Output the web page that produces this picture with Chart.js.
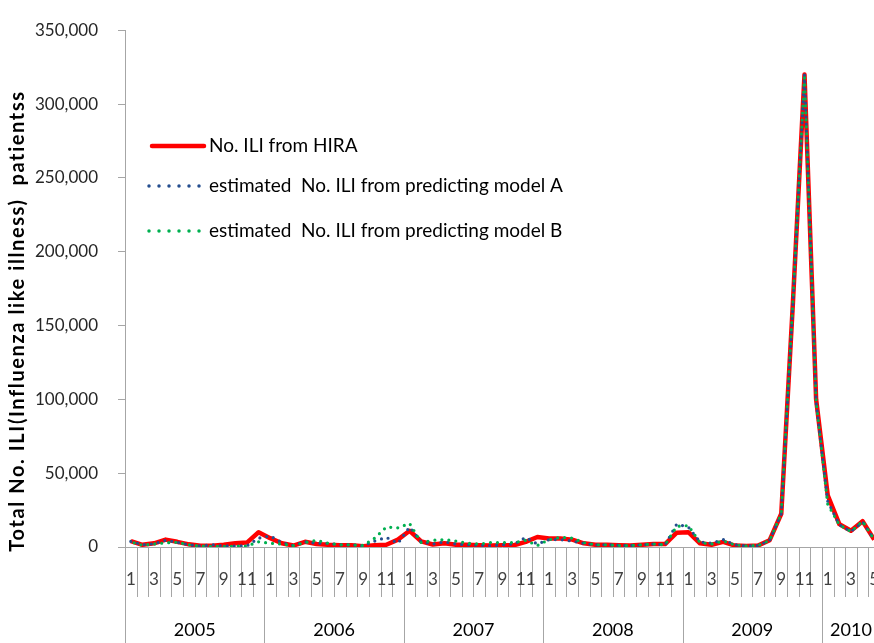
<!DOCTYPE html>
<html>
<head>
<meta charset="utf-8">
<script src="https://cdn.jsdelivr.net/npm/chart.js@4.4.1/dist/chart.umd.min.js"></script>
<style>
  html, body { margin: 0; padding: 0; background: #fff; overflow: hidden; }
  #wrap { width: 880px; height: 643px; position: relative; }
</style>
</head>
<body>
<div id="wrap"><canvas id="ili"></canvas></div>
<script>
// Monthly ILI counts, January 2005 – May 2010
const years = [2005, 2006, 2007, 2008, 2009, 2010];
const monthsPerYear = [12, 12, 12, 12, 12, 5];

const hira = [
  4000, 1500, 2500, 5000, 3500, 1800, 800, 800, 1500, 2500, 3000, 10000,
  6000, 2500, 1000, 3500, 2000, 1500, 1200, 1200, 500, 1200, 1500, 5000,
  11000, 3800, 1700, 2500, 1500, 1500, 1200, 1000, 1200, 1200, 3500, 6800,
  5700, 5700, 5000, 2500, 1500, 1500, 1200, 1000, 1500, 2000, 2000, 9700,
  10000, 2500, 1500, 3500, 1000, 600, 1000, 4600, 22500, 165000, 320000, 100000,
  35000, 15500, 11000, 17500, 5000
];
const modelA = [
  3800, 1500, 2200, 4500, 3200, 1500, 700, 1500, 800, 600, 800, 6000,
  7500, 3000, 1000, 3500, 2500, 2500, 1500, 1500, 800, 4000, 6500, 2500,
  13500, 3500, 2000, 3500, 2000, 1500, 1200, 1000, 1500, 2000, 6500, 2000,
  5000, 5000, 4000, 2500, 1500, 1500, 1200, 1000, 1500, 2000, 1500, 15500,
  13500, 3500, 2500, 5000, 1500, 700, 1000, 4500, 22500, 163000, 320000, 98000,
  31000, 15000, 10500, 17000, 5000
];
const modelB = [
  3500, 1200, 2000, 2800, 3200, 1500, 600, 500, 500, 500, 700, 3500,
  2500, 2000, 1000, 3000, 4500, 2500, 1500, 1500, 1000, 6000, 13500, 13000,
  16000, 3000, 4500, 5000, 4000, 2500, 2000, 3000, 3000, 3000, 4500, 1000,
  5000, 6500, 6000, 3000, 1500, 1500, 1000, 1000, 1500, 2000, 1500, 14000,
  14500, 3000, 2000, 4000, 1500, 700, 1000, 4500, 22500, 166000, 320000, 99000,
  29000, 15000, 10500, 17500, 5000
];

const seriesNames = [
  'No. ILI from HIRA',
  'estimated  No. ILI from predicting model A',
  'estimated  No. ILI from predicting model B'
];
const yAxisTitle = 'Total No. ILI(Influenza like illness)  patientss';
const yMax = 350000;
const yStep = 50000;

const RED = '#FF0000';
const BLUE = '#254E8F';
const GREEN = '#00B050';
const AXIS = '#A6A6A6';
const FONT = 'Lato, "Open Sans", sans-serif';

// category list: one entry per month, remembering year and month number
const categories = [];
const monthOf = [];
years.forEach((yr, yi) => {
  for (let m = 1; m <= monthsPerYear[yi]; m++) {
    categories.push(yr + '-' + m);
    monthOf.push(m);
  }
});

// two-level month / year axis, y-axis title and legend
const decor = {
  id: 'decor',
  afterDraw(chart) {
    const ctx = chart.ctx;
    const xs = chart.scales.x;
    const area = chart.chartArea;
    const H = chart.height;
    const half = (xs.getPixelForValue(1) - xs.getPixelForValue(0)) / 2;
    const crisp = v => Math.round(v) + 0.5;
    const base = crisp(area.bottom);

    ctx.save();
    ctx.strokeStyle = AXIS;
    ctx.lineWidth = 1;
    ctx.beginPath();
    ctx.moveTo(area.left, base);
    ctx.lineTo(area.right, base);
    ctx.moveTo(crisp(area.left), area.top);
    ctx.lineTo(crisp(area.left), H);
    ctx.stroke();

    const monthRowBottom = area.bottom + 50;
    let idx = 0;
    years.forEach((yr, yi) => {
      const n = monthsPerYear[yi];
      const firstLeft = xs.getPixelForValue(idx) - half;
      for (let k = 0; k < n; k++) {
        const i = idx + k;
        const cx = xs.getPixelForValue(i);
        const right = crisp(cx + half);
        const endOfYear = monthOf[i] === 12;
        ctx.beginPath();
        ctx.moveTo(right, base);
        ctx.lineTo(right, endOfYear ? H : monthRowBottom);
        ctx.stroke();
        if (monthOf[i] % 2 === 1) {
          ctx.fillStyle = '#404040';
          ctx.font = '17px ' + FONT;
          ctx.textAlign = 'center';
          ctx.textBaseline = 'middle';
          ctx.fillText(String(monthOf[i]), cx, area.bottom + 33);
        }
      }
      const lastRight = xs.getPixelForValue(idx + n - 1) + half;
      ctx.fillStyle = '#000';
      ctx.font = '18px ' + FONT;
      ctx.textAlign = 'center';
      ctx.textBaseline = 'middle';
      ctx.fillText(String(yr), (firstLeft + lastRight) / 2, area.bottom + 83);
      idx += n;
    });

    // y-axis title
    ctx.save();
    ctx.translate(18, 321);
    ctx.rotate(-Math.PI / 2);
    ctx.fillStyle = '#000';
    ctx.font = 'bold 20px ' + FONT;
    ctx.letterSpacing = '1.6px';
    ctx.textAlign = 'center';
    ctx.textBaseline = 'middle';
    ctx.fillText(yAxisTitle, 0, 0);
    ctx.restore();

    // legend
    const items = chart.data.datasets;
    const rows = [146, 186, 231];
    ctx.font = '19px ' + FONT;
    ctx.textAlign = 'left';
    ctx.textBaseline = 'middle';
    items.forEach((ds, i) => {
      const y = rows[i];
      ctx.beginPath();
      ctx.strokeStyle = ds.borderColor;
      if (i === 0) {
        ctx.lineWidth = 4.5;
        ctx.lineCap = 'round';
        ctx.setLineDash([]);
        ctx.moveTo(152, y);
        ctx.lineTo(204, y);
      } else {
        ctx.lineWidth = 3.5;
        ctx.lineCap = 'round';
        ctx.setLineDash([0, 10]);
        ctx.moveTo(149, y);
        ctx.lineTo(201, y);
      }
      ctx.stroke();
      ctx.setLineDash([]);
      ctx.fillStyle = '#000';
      ctx.fillText(ds.label, 209, y);
    });
    ctx.restore();
  }
};

new Chart(document.getElementById('ili'), {
  type: 'line',
  data: {
    labels: categories,
    datasets: [
      {
        label: seriesNames[0], data: hira, order: 3,
        borderColor: RED, borderWidth: 4.5, pointRadius: 0,
        borderJoinStyle: 'round', tension: 0
      },
      {
        label: seriesNames[1], data: modelA, order: 2,
        borderColor: BLUE, borderWidth: 3.2, pointRadius: 0,
        borderDash: [0, 7], borderCapStyle: 'round', tension: 0
      },
      {
        label: seriesNames[2], data: modelB, order: 1,
        borderColor: GREEN, borderWidth: 3.2, pointRadius: 0,
        borderDash: [0, 7], borderDashOffset: 3.5, borderCapStyle: 'round', tension: 0
      }
    ]
  },
  options: {
    responsive: true,
    maintainAspectRatio: false,
    animation: false,
    layout: { padding: { top: 19, right: 0, bottom: 96, left: 0 } },
    plugins: { legend: { display: false }, tooltip: { enabled: false } },
    scales: {
      x: {
        type: 'category',
        offset: true,
        display: false
      },
      y: {
        min: 0,
        max: yMax,
        afterFit(scale) { scale.width = 125; },
        grid: { drawOnChartArea: false, drawTicks: true, tickLength: 7, color: AXIS },
        border: { display: true, color: AXIS },
        ticks: {
          stepSize: yStep,
          padding: 20,
          color: '#262626',
          font: { family: FONT, size: 17 },
          callback: v => v.toLocaleString('en-US')
        }
      }
    }
  },
  plugins: [decor]
});
</script>
</body>
</html>
